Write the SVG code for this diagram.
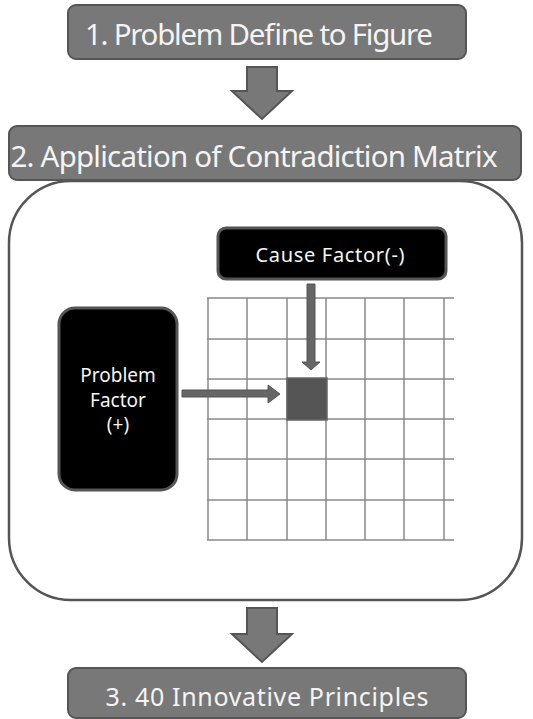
<svg xmlns="http://www.w3.org/2000/svg" width="533" height="719" viewBox="0 0 533 719">
<style>
.step{fill:#787878;stroke:#555;stroke-width:2}
.big{fill:#fff;stroke:#555;stroke-width:2.5}
.blk{fill:#000;stroke:#555;stroke-width:3}
.arr{fill:#787878;stroke:#555;stroke-width:2;stroke-linejoin:miter}
.t{font-family:"Noto Sans","Open Sans","DejaVu Sans",sans-serif;fill:#f4f4f4;text-anchor:middle}
.grid line{stroke:#888;stroke-width:1.5}
.conn{fill:#666;stroke:#555;stroke-width:1}
</style>
<rect x="0" y="0" width="533" height="719" fill="#fff"/>
<g id="step1">
<rect class="step" x="68" y="5" width="398" height="54" rx="8"/>
<text class="t" x="259" y="45" font-size="29.5" textLength="348" lengthAdjust="spacing">1. Problem Define to Figure</text>
</g>
<g id="step2">
<rect class="step" x="9" y="126" width="512" height="54" rx="8"/>
<text class="t" x="254" y="167" font-size="29.5" textLength="487" lengthAdjust="spacing">2. Application of Contradiction Matrix</text>
</g>
<g id="matrixPanel">
<rect class="big" x="9" y="181" width="513" height="419" rx="62"/>
</g>
<g id="matrix" class="grid">
<line x1="207" y1="298" x2="454" y2="298"/>
<line x1="207" y1="339" x2="454" y2="339"/>
<line x1="207" y1="379" x2="454" y2="379"/>
<line x1="207" y1="419" x2="454" y2="419"/>
<line x1="207" y1="459" x2="454" y2="459"/>
<line x1="207" y1="500" x2="454" y2="500"/>
<line x1="207" y1="540" x2="454" y2="540"/>
<line x1="208" y1="298" x2="208" y2="540"/>
<line x1="247" y1="298" x2="247" y2="540"/>
<line x1="287" y1="298" x2="287" y2="540"/>
<line x1="326" y1="298" x2="326" y2="540"/>
<line x1="365" y1="298" x2="365" y2="540"/>
<line x1="404" y1="298" x2="404" y2="540"/>
<line x1="444" y1="298" x2="444" y2="540"/>
</g>
<g id="cell">
<rect x="287" y="378" width="40" height="42" fill="#555" stroke="#666" stroke-width="1.5"/>
</g>
<g id="causeFactor">
<rect class="blk" x="218" y="228" width="228" height="51" rx="8"/>
<text class="t" x="330" y="262" font-size="20" textLength="149" lengthAdjust="spacing">Cause  Factor(-)</text>
</g>
<g id="problemFactor">
<rect class="blk" x="59" y="308" width="118" height="182" rx="16"/>
<text class="t" x="118" y="382" font-size="19">Problem</text>
<text class="t" x="118" y="407" font-size="19">Factor</text>
<text class="t" x="118" y="431" font-size="19">(+)</text>
</g>
<g id="step3">
<rect class="step" x="68" y="668" width="398" height="50" rx="8"/>
<text class="t" x="267" y="706" font-size="25" textLength="323" lengthAdjust="spacing">3. 40 Innovative Principles</text>
</g>
<g id="connectors">
<path class="arr" d="M247,67 H277 V91 H292 L262,119 L232,91 H247 Z"/>
<path class="arr" d="M247,608 H277 V634 H292 L262,662 L232,634 H247 Z"/>
<path class="conn" d="M307,284 H315 V362 H320 L311,370 L302,362 H307 Z"/>
<path class="conn" d="M182,390 H268 V385 L280,394 L268,403 V397 H182 Z"/>
</g>
</svg>
